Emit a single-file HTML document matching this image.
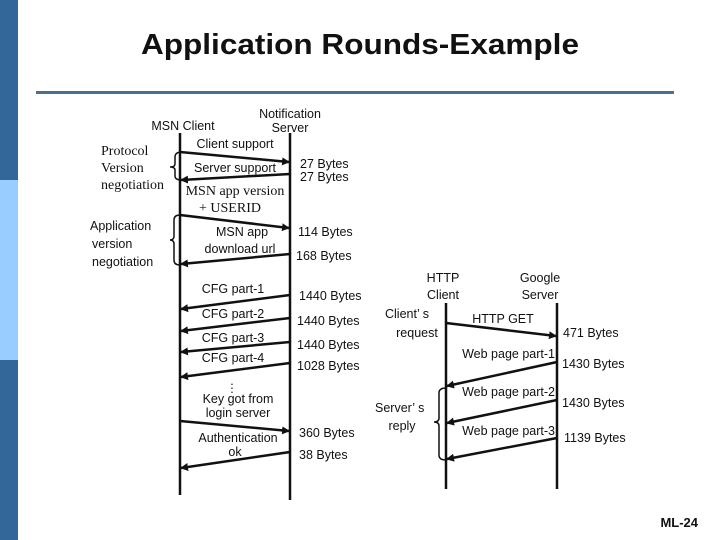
<!DOCTYPE html>
<html><head><meta charset="utf-8"><style>
html,body{margin:0;padding:0;background:#fff;}
svg{display:block;}
text{font-family:"Liberation Sans",sans-serif;font-size:12.5px;fill:#111;}
.s{font-family:"Liberation Serif",serif;font-size:14px;}
</style></head><body>
<svg width="720" height="540" viewBox="0 0 720 540" xmlns="http://www.w3.org/2000/svg">
<defs>
<marker id="a" markerWidth="8" markerHeight="8" refX="7" refY="4" orient="auto" markerUnits="userSpaceOnUse">
<path d="M0,0 L8,4 L0,8 Z" fill="#111"/></marker>
</defs>
<rect x="0" y="0" width="18" height="540" fill="#336699"/>
<rect x="0" y="180" width="18" height="180" fill="#99ccff"/>
<text x="360" y="54" text-anchor="middle" style="font-size:29px;font-weight:bold" textLength="438" lengthAdjust="spacingAndGlyphs">Application Rounds-Example</text>
<rect x="36" y="91" width="638" height="3" fill="#4a6f8f"/>

<g stroke="#111" stroke-width="2.5" fill="none">
<line x1="180" y1="133" x2="180" y2="495"/>
<line x1="290" y1="133" x2="290" y2="500"/>
<line x1="446" y1="303" x2="446" y2="489"/>
<line x1="557" y1="303" x2="557" y2="489"/>
</g>
<g stroke="#111" stroke-width="2.5" fill="none" marker-end="url(#a)">
<line x1="180" y1="152" x2="289" y2="162"/>
<line x1="290" y1="174" x2="181" y2="180"/>
<line x1="180" y1="215" x2="289" y2="228"/>
<line x1="290" y1="254" x2="181" y2="264"/>
<line x1="290" y1="295" x2="181" y2="309"/>
<line x1="290" y1="318" x2="181" y2="331"/>
<line x1="290" y1="342" x2="181" y2="352"/>
<line x1="290" y1="363" x2="181" y2="377"/>
<line x1="180" y1="421" x2="289" y2="431"/>
<line x1="290" y1="452" x2="181" y2="468"/>
<line x1="446" y1="323" x2="556" y2="336"/>
<line x1="557" y1="362" x2="447" y2="386"/>
<line x1="557" y1="400" x2="447" y2="423"/>
<line x1="557" y1="438" x2="447" y2="459"/>
</g>
<g stroke="#111" stroke-width="1.5" fill="none">
<path d="M182,152 Q175,152 175,157 L175,164 Q175,167 170,167 Q175,167 175,170 L175,176 Q175,180 182,180"/>
<path d="M180,215 Q174,215 174,220 L174,236 Q174,240 170,240 Q174,240 174,244 L174,260 Q174,265 180,265"/>
<path d="M446,388 Q439,388 439,393 L439,418 Q439,422 434,422 Q439,422 439,426 L439,455 Q439,460 446,460"/>
</g>
<text x="183" y="130" text-anchor="middle">MSN Client</text>
<text x="290" y="118" text-anchor="middle">Notification</text>
<text x="290" y="132" text-anchor="middle">Server</text>
<text x="235" y="148" text-anchor="middle">Client support</text>
<text x="235" y="172" text-anchor="middle">Server support</text>
<text x="235" y="195" text-anchor="middle" class="s">MSN app version</text>
<text x="230" y="212" text-anchor="middle" class="s">+ USERID</text>
<text x="242" y="236" text-anchor="middle">MSN app</text>
<text x="240" y="253" text-anchor="middle">download url</text>
<text x="300" y="168">27 Bytes</text>
<text x="300" y="181">27 Bytes</text>
<text x="298" y="236">114 Bytes</text>
<text x="296" y="260">168 Bytes</text>
<text x="101" y="155" class="s">Protocol</text>
<text x="101" y="172" class="s">Version</text>
<text x="101" y="189" class="s">negotiation</text>
<text x="90" y="230">Application</text>
<text x="92" y="248">version</text>
<text x="92" y="266">negotiation</text>
<text x="233" y="293" text-anchor="middle">CFG part-1</text>
<text x="233" y="318" text-anchor="middle">CFG part-2</text>
<text x="233" y="342" text-anchor="middle">CFG part-3</text>
<text x="233" y="362" text-anchor="middle">CFG part-4</text>
<text x="299" y="300">1440 Bytes</text>
<text x="297" y="325">1440 Bytes</text>
<text x="297" y="349">1440 Bytes</text>
<text x="297" y="370">1028 Bytes</text>
<text x="232" y="385" text-anchor="middle">.</text>
<text x="232" y="389" text-anchor="middle">.</text>
<text x="232" y="393" text-anchor="middle">.</text>
<text x="238" y="403" text-anchor="middle">Key got from</text>
<text x="238" y="417" text-anchor="middle">login server</text>
<text x="238" y="442" text-anchor="middle">Authentication</text>
<text x="235" y="456" text-anchor="middle">ok</text>
<text x="299" y="437">360 Bytes</text>
<text x="299" y="459">38 Bytes</text>
<text x="443" y="282" text-anchor="middle">HTTP</text>
<text x="443" y="299" text-anchor="middle">Client</text>
<text x="540" y="282" text-anchor="middle">Google</text>
<text x="540" y="299" text-anchor="middle">Server</text>
<text x="385" y="318">Client’ s</text>
<text x="417" y="337" text-anchor="middle">request</text>
<text x="503" y="323" text-anchor="middle">HTTP GET</text>
<text x="563" y="337">471 Bytes</text>
<text x="555" y="358" text-anchor="end">Web page part-1</text>
<text x="562" y="368">1430 Bytes</text>
<text x="555" y="396" text-anchor="end">Web page part-2</text>
<text x="562" y="407">1430 Bytes</text>
<text x="555" y="435" text-anchor="end">Web page part-3</text>
<text x="564" y="442">1139 Bytes</text>
<text x="375" y="412">Server’ s</text>
<text x="402" y="430" text-anchor="middle">reply</text>
<text x="698" y="527" text-anchor="end" style="font-size:13px;font-weight:bold">ML-24</text>
</svg>
</body></html>
